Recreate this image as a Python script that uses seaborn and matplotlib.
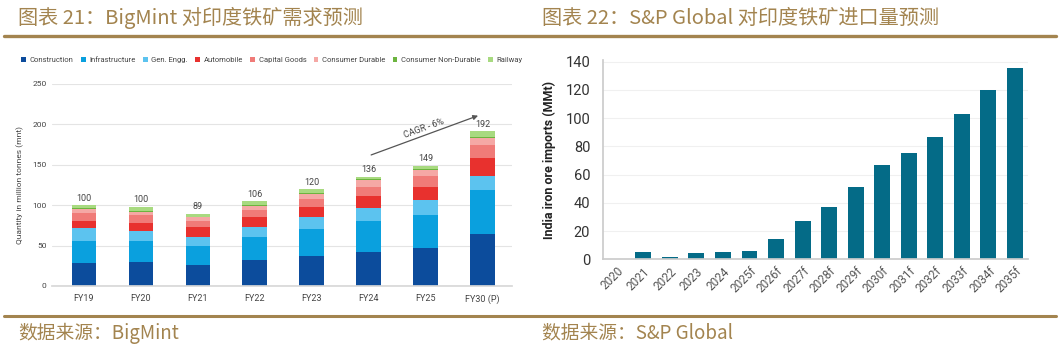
import numpy as np
import pandas as pd
import matplotlib
matplotlib.use("Agg")
import matplotlib.pyplot as plt
import seaborn as sns
from matplotlib.patches import Patch
from matplotlib.lines import Line2D

# ---------------- data: left chart (BigMint) ----------------
fy_labels = ["FY19", "FY20", "FY21", "FY22", "FY23", "FY24", "FY25", "FY30 (P)"]
construction = [29, 30, 26, 32, 37, 42.5, 47, 64]
infrastructure = [27, 26, 24, 29, 34, 38, 41, 55]
gen_engg = [16, 12, 11, 12, 14, 16, 18, 17]
automobile = [9, 10, 11.5, 13, 13, 15, 16, 22]
capital_goods = [9, 10, 8.5, 8, 9.5, 10.5, 14.5, 17]
consumer_durable = [5, 4, 4, 5, 6.5, 9, 7, 8]
consumer_non_durable = [1, 1, 1, 1, 1, 1, 1, 1.5]
railway = [4, 5, 3.5, 5, 5, 3.5, 4.5, 7]
total_labels = [100, 100, 89, 106, 120, 136, 149, 192]
segment_names = ["Construction", "Infrastructure", "Gen. Engg.", "Automobile",
                 "Capital Goods", "Consumer Durable", "Consumer Non-Durable", "Railway"]
cagr_text = "CAGR - 6%"

# ---------------- data: right chart (S&P Global) ----------------
years = ["2020", "2021", "2022", "2023", "2024", "2025f", "2026f", "2027f",
         "2028f", "2029f", "2030f", "2031f", "2032f", "2033f", "2034f", "2035f"]
imports = [0.5, 5.4, 1.9, 4.5, 5.0, 6.1, 14.6, 27.4, 37.1, 51.5, 66.6, 75.1,
           86.9, 103.0, 119.8, 135.4]

# ---------------- styling ----------------
sns.set_theme(style="white")
plt.rcParams['font.family'] = ['Roboto', 'Noto Sans CJK SC', 'DejaVu Sans']
gold = "#a3844f"
seg_colors = ["#0c4c9c", "#0aa0de", "#5cc3ef", "#e8312e", "#f07b78",
              "#f5a8a5", "#6cb43f", "#a8da80"]
teal = "#046b87"
cjk = ['Noto Sans CJK SC', 'DejaVu Sans']

fig = plt.figure(figsize=(10.6, 3.52), dpi=100)
W, H = 1060, 352

# ---------------- header / footer ----------------
fig.add_artist(Line2D([0.004, 0.996], [1 - 36 / H] * 2, color=gold, lw=2.4))
fig.add_artist(Line2D([0.004, 0.996], [1 - 316 / H] * 2, color=gold, lw=2.2))
fig.text(18 / W, 1 - 18 / H, "图表 21：BigMint 对印度铁矿需求预测", family=cjk,
         fontsize=14.5, color=gold, va="center", ha="left")
fig.text(542 / W, 1 - 18 / H, "图表 22：S&P Global 对印度铁矿进口量预测", family=cjk,
         fontsize=14.5, color=gold, va="center", ha="left")
fig.text(18 / W, 1 - 333 / H, "数据来源：BigMint", family=cjk,
         fontsize=13.5, color=gold, va="center", ha="left")
fig.text(542 / W, 1 - 333 / H, "数据来源：S&P Global", family=cjk,
         fontsize=13.5, color=gold, va="center", ha="left")

# ---------------- left chart ----------------
axL = fig.add_axes([52 / W, 1 - 286 / H, (512 - 52) / W, (286 - 84) / H])
segments = [construction, infrastructure, gen_engg, automobile, capital_goods,
            consumer_durable, consumer_non_durable, railway]
cum = np.cumsum(np.array(segments, dtype=float), axis=0)
dfL = pd.DataFrame({"FY": fy_labels})
for i in range(len(segments) - 1, -1, -1):
    dfL["v"] = cum[i]
    sns.barplot(data=dfL, x="FY", y="v", color=seg_colors[i], width=0.43,
                saturation=1, linewidth=0, ax=axL)
axL.set_ylim(0, 250)
axL.set_xlim(-0.56, 7.52)
axL.set_yticks(range(0, 251, 50))
axL.yaxis.grid(True, color="#e4e4e4", lw=0.8)
axL.set_axisbelow(True)
for s in ["top", "right", "left"]:
    axL.spines[s].set_visible(False)
axL.spines["bottom"].set_color("#d8d8d8")
axL.tick_params(axis="both", length=0, labelsize=6, colors="#444444")
axL.tick_params(axis="y", pad=4)
axL.tick_params(axis="x", pad=6, labelsize=6.5)
axL.set_xlabel("")
axL.set_ylabel("Quantity in million tonnes (mnt)", fontsize=6, color="#444444")
axL.yaxis.set_label_coords(-0.06, 0.5)
for i, t in enumerate(total_labels):
    axL.text(i, cum[-1][i] + 3, str(t), ha="center", va="bottom", fontsize=6.5, color="#444444")
axL.annotate("", xy=(6.97, 212), xytext=(5.0, 161),
             arrowprops=dict(arrowstyle="-|>", color="#555555", lw=0.9, mutation_scale=7))
axL.text(5.98, 195, cagr_text, rotation=20, ha="center", va="center", fontsize=6.5, color="#444444")

handles = [Patch(facecolor=c, edgecolor="none") for c in seg_colors]
fig.legend(handles, segment_names, loc="center", bbox_to_anchor=(272 / W, 1 - 60 / H), ncol=8,
           fontsize=5.5, frameon=False, handlelength=0.6, handleheight=0.6,
           handletextpad=0.5, columnspacing=0.95, labelcolor="#444444")

# ---------------- right chart ----------------
axR = fig.add_axes([602.7 / W, 1 - 259.3 / H, (1028 - 602.7) / W, (259.3 - 60) / H])
dfR = pd.DataFrame({"year": years, "imports": imports})
sns.barplot(data=dfR, x="year", y="imports", color=teal, width=0.6, saturation=1,
            linewidth=0, ax=axR)
axR.set_ylim(0, 141.2)
axR.set_xlim(-0.53, 15.49)
axR.set_yticks(range(0, 141, 20))
axR.yaxis.grid(True, color="#f0f0f0", lw=0.8)
axR.set_axisbelow(True)
for s in ["top", "right"]:
    axR.spines[s].set_visible(False)
axR.spines["left"].set_color("#cccccc")
axR.spines["bottom"].set_color("#cccccc")
axR.tick_params(axis="both", length=0, colors="#333333")
axR.tick_params(axis="y", labelsize=10.5, pad=9)
axR.tick_params(axis="x", labelsize=8.5, pad=4, colors="#555555")
for lab in axR.get_xticklabels():
    lab.set_rotation(45)
    lab.set_ha("right")
    lab.set_rotation_mode("anchor")
axR.set_xlabel("")
axR.set_ylabel("India iron ore imports (MMt)", fontsize=9, fontweight="bold", color="#222222")
axR.yaxis.set_label_coords(-0.11, 0.5)

fig.savefig("out.png", dpi=100)
